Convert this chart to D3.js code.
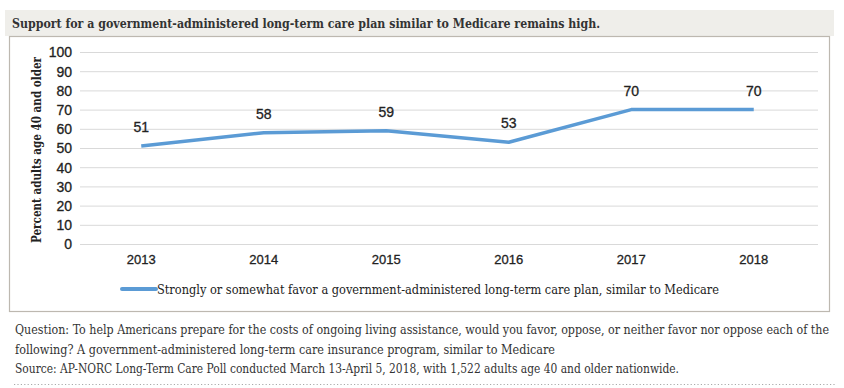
<!DOCTYPE html>
<html><head><meta charset="utf-8">
<script src="https://cdn.jsdelivr.net/npm/d3@7"></script>
<style>
body{margin:0;background:#fff;}
svg{display:block;}
</style></head>
<body><svg id="c" width="844" height="388"></svg>
<script>
const categories = ["2013","2014","2015","2016","2017","2018"];
const values = [51,58,59,53,70,70];
const yTicks = [0,10,20,30,40,50,60,70,80,90,100];
const seriesName = "Strongly or somewhat favor a government-administered long-term care plan, similar to Medicare";
const title = "Support for a government-administered long-term care plan similar to Medicare remains high.";
const notes = [
  "Question: To help Americans prepare for the costs of ongoing living assistance, would you favor, oppose, or neither favor nor oppose each of the",
  "following? A government-administered long-term care insurance program, similar to Medicare",
  "Source: AP-NORC Long-Term Care Poll conducted March 13-April 5, 2018, with 1,522 adults age 40 and older nationwide."
];

const svg = d3.select("#c");
const serif = "'DejaVu Serif Condensed','DejaVu Serif',serif";
const sans = "'Liberation Sans Narrow','Liberation Sans',Arial,sans-serif";

// title band
svg.append("rect").attr("x",5).attr("y",10).attr("width",829).attr("height",26).attr("fill","#efeeea");
svg.append("text").attr("x",12).attr("y",28).attr("font-family",serif).attr("font-weight","bold")
  .attr("font-size",13).attr("fill","#333").attr("textLength",588).attr("lengthAdjust","spacingAndGlyphs").text(title);
// chart box
svg.append("rect").attr("x",9.5).attr("y",36.5).attr("width",820).attr("height",275).attr("fill","#fff")
  .attr("stroke","#bdb8b0").attr("stroke-width",1.2);

const x = d3.scaleBand().domain(categories).range([80,815]);
const y = d3.scaleLinear().domain([0,100]).range([244,52]);

// gridlines
svg.append("g").selectAll("line").data(yTicks).join("line")
  .attr("x1",80).attr("x2",818).attr("y1",d=>y(d)+0.5).attr("y2",d=>y(d)+0.5)
  .attr("stroke","#d9d9d9").attr("stroke-width",1);

// y axis labels
const yAxis = d3.axisLeft(y).tickValues(yTicks).tickSize(0).tickPadding(0);
const ga = svg.append("g").attr("transform","translate(72,0)").call(yAxis);
ga.select(".domain").remove();
ga.selectAll("text").attr("font-family",sans).attr("font-size",14).attr("fill","#222").attr("dy","0.35em")
  .attr("stroke","#222").attr("stroke-width",0.3);

// x axis labels
const xAxis = d3.axisBottom(x).tickSize(0).tickPadding(0);
const gx = svg.append("g").attr("transform","translate(0,255)").call(xAxis);
gx.select(".domain").remove();
gx.selectAll("text").attr("font-family",sans).attr("font-size",13).attr("fill","#222").attr("dy","0.71em")
  .attr("stroke","#222").attr("stroke-width",0.3);

// y title
svg.append("text").attr("transform","translate(41,150) rotate(-90)").attr("text-anchor","middle")
  .attr("font-family",serif).attr("font-weight","bold").attr("font-size",13).attr("fill","#222")
  .attr("textLength",186).attr("lengthAdjust","spacingAndGlyphs")
  .text("Percent adults age 40 and older");

// line
const cx = d => x(d) + x.bandwidth()/2;
const line = d3.line().x((d,i)=>cx(categories[i])).y(d=>y(d));
svg.append("path").datum(values).attr("d",line).attr("fill","none")
  .attr("stroke","#5b9bd5").attr("stroke-width",3.5).attr("stroke-linejoin","round");

// data labels
svg.append("g").selectAll("text").data(values).join("text")
  .attr("x",(d,i)=>cx(categories[i])).attr("y",d=>y(d)-14).attr("text-anchor","middle")
  .attr("font-family",sans).attr("font-size",14).attr("fill","#222")
  .attr("stroke","#222").attr("stroke-width",0.3).text(d=>d);

// legend
svg.append("line").attr("x1",122).attr("x2",156).attr("y1",289).attr("y2",289)
  .attr("stroke","#5b9bd5").attr("stroke-width",4).attr("stroke-linecap","round");
svg.append("text").attr("x",157).attr("y",294).attr("font-family",serif).attr("font-size",13)
  .attr("fill","#222").attr("textLength",562).attr("lengthAdjust","spacingAndGlyphs").text(seriesName);

// notes
const lens = [814, 540, 664];
svg.append("g").selectAll("text").data(notes).join("text")
  .attr("x",15).attr("y",(d,i)=>334+i*19.5).attr("font-family",serif).attr("font-size",12.5)
  .attr("fill","#333").attr("textLength",(d,i)=>lens[i]).attr("lengthAdjust","spacingAndGlyphs").text(d=>d);

// dotted bottom line
svg.append("line").attr("x1",14).attr("x2",836).attr("y1",384.5).attr("y2",384.5)
  .attr("stroke","#aaa").attr("stroke-width",1.2).attr("stroke-dasharray","1.2,2.2");
</script></body></html>
